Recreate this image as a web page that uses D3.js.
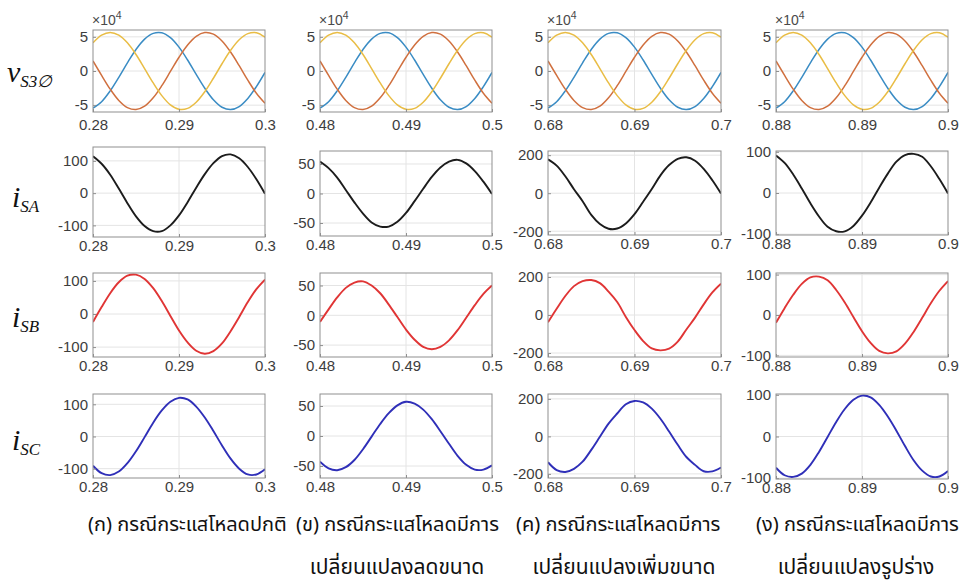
<!DOCTYPE html>
<html>
<head>
<meta charset="utf-8">
<script src="https://cdn.jsdelivr.net/npm/d3@7"></script>
<style>
  body { margin: 0; background: #fff; }
  svg { display: block; }
</style>
</head>
<body>
<svg id="chart" width="963" height="582"></svg>
<script>
// ---- data -------------------------------------------------------------
// sample instants inside each 20 ms window, in ms from the window start
const sampleMs = [0, 1, 2, 3, 4, 5, 6, 7, 8, 9, 10, 11, 12, 13, 14, 15, 16, 17, 18, 19, 20];

// window start / end (s) for the four cases
const windowStart = [0.28, 0.48, 0.68, 0.88];
const windowEnd   = [0.30, 0.50, 0.70, 0.90];
const xTickLabels = [
  ["0.28", "0.29", "0.3"],
  ["0.48", "0.49", "0.5"],
  ["0.68", "0.69", "0.7"],
  ["0.88", "0.89", "0.9"]
];

// three-phase source voltage (x10^4 V), identical in all four windows
const vPhaseA = [-5.44, -4.49, -2.90, -0.92, 1.20, 3.15, 4.66, 5.51, 5.59, 4.88, 3.49, 1.61, -0.50, -2.53, -4.21, -5.30, -5.65, -5.20, -4.02, -2.28, -0.21];
const vPhaseB = [1.47, -0.64, -2.66, -4.31, -5.35, -5.64, -5.14, -3.92, -2.15, -0.07, 2.01, 3.81, 5.08, 5.63, 5.40, 4.40, 2.78, 0.78, -1.34, -3.26, -4.73];
const vPhaseC = [4.12, 5.25, 5.65, 5.25, 4.12, 2.41, 0.35, -1.75, -3.60, -4.95, -5.60, -5.47, -4.57, -3.03, -1.06, 1.06, 3.03, 4.57, 5.47, 5.61, 4.95];

// source currents (A), one list per case
const iSA = [
  [114, 91, 57, 14, -31, -72, -102, -118, -118, -100, -69, -28, 17, 59, 93, 115, 120, 108, 81, 43, -2],
  [54, 43, 27, 6, -15, -34, -49, -56, -56, -48, -33, -13, 8, 28, 44, 54, 57, 51, 38, 20, -1],
  [178, 145, 89, 21, -42, -114, -162, -187, -186, -159, -110, -45, 22, 94, 148, 181, 189, 171, 128, 68, -2],
  [91, 73, 45, 11, -25, -57, -82, -93, -93, -80, -55, -23, 13, 47, 76, 92, 95, 88, 65, 34, -1]
];
const iSB = [
  [-24, 21, 63, 96, 116, 119, 106, 78, 39, -6, -50, -86, -111, -120, -112, -89, -52, -9, 36, 75, 104],
  [-11, 10, 30, 46, 55, 57, 50, 37, 18, -3, -24, -41, -53, -57, -53, -42, -25, -4, 17, 36, 50],
  [-38, 33, 100, 152, 178, 184, 168, 123, 68, -10, -79, -137, -176, -186, -177, -140, -76, -14, 56, 119, 165],
  [-19, 17, 50, 77, 93, 95, 86, 62, 31, -5, -40, -69, -89, -95, -90, -71, -42, -7, 29, 60, 84]
];
const iSC = [
  [-91, -114, -120, -109, -83, -46, -2, 43, 81, 108, 120, 115, 93, 59, 17, -28, -69, -100, -118, -118, -102],
  [-43, -54, -57, -52, -40, -22, -1, 20, 38, 51, 57, 54, 44, 28, 8, -13, -33, -48, -56, -56, -49],
  [-138, -180, -190, -173, -135, -72, -2, 68, 122, 171, 189, 181, 148, 94, 26, -45, -110, -152, -186, -187, -166],
  [-75, -93, -97, -89, -68, -37, -1, 35, 66, 88, 98, 94, 76, 48, 14, -23, -57, -82, -96, -96, -83]
];

// axis limits and tick values
const yLimits = [
  [[-6, 6], [-6, 6], [-6, 6], [-6, 6]],
  [[-136, 143], [-72, 72], [-220, 222], [-102, 102]],
  [[-130, 124], [-70, 71], [-221, 221], [-104, 104]],
  [[-129, 132], [-70, 70], [-222, 226], [-102, 102]]
];
const voltageTicks = [-5, 0, 5];
const currentTicks = [[-100, 0, 100], [-50, 0, 50], [-200, 0, 200], [-100, 0, 100]];

const rowLabels = [
  { main: "v", sub: "S3\u2205" },
  { main: "i", sub: "SA" },
  { main: "i", sub: "SB" },
  { main: "i", sub: "SC" }
];
const captionLine1 = [
  "(ก) กรณีกระแสโหลดปกติ",
  "(ข) กรณีกระแสโหลดมีการ",
  "(ค) กรณีกระแสโหลดมีการ",
  "(ง) กรณีกระแสโหลดมีการ"
];
const captionLine2 = ["", "เปลี่ยนแปลงลดขนาด", "เปลี่ยนแปลงเพิ่มขนาด", "เปลี่ยนแปลงรูปร่าง"];

// ---- layout -----------------------------------------------------------
const colLeft  = [93, 320, 548, 776];
const colRight = [265, 492, 721, 948];
const rowTop    = [[30, 30, 30, 30], [147, 151, 151, 151], [273, 273, 273, 273], [394, 394, 394, 394]];
const rowBottom = [[112, 112, 112, 112], [237, 236, 235, 235], [357, 357, 357, 357], [478, 478, 478, 479]];
const xLabelGap = [7, 3, 3, 3];
const labelBaseline = [82, 207, 327, 450];
const caption1Start = [88, 296, 516, 756];
const caption2Center = [186, 397, 624, 856];

const voltageColors = ["#3a8cc4", "#d0703f", "#e9bd45"];
const currentColors = ["#1c1c1c", "#e03535", "#2f2fb8"];

const svg = d3.select("#chart");
const tickFont = "'Liberation Sans', Arial, Helvetica, sans-serif";

function panel(r, c) {
  const x0 = windowStart[c], x1 = windowEnd[c];
  const x = d3.scaleLinear().domain([x0, x1]).range([colLeft[c], colRight[c]]);
  const y = d3.scaleLinear().domain(yLimits[r][c]).range([rowBottom[r][c], rowTop[r][c]]);
  const yTicks = r === 0 ? voltageTicks : currentTicks[c];
  const xTicks = [x0, (x0 + x1) / 2, x1];

  const g = svg.append("g");
  const id = `clip-${r}-${c}`;
  svg.append("clipPath").attr("id", id)
    .append("rect")
    .attr("x", colLeft[c]).attr("y", rowTop[r][c])
    .attr("width", colRight[c] - colLeft[c])
    .attr("height", rowBottom[r][c] - rowTop[r][c]);

  // grid
  g.append("g").selectAll("line").data([xTicks[1]]).join("line")
    .attr("x1", d => x(d)).attr("x2", d => x(d))
    .attr("y1", rowTop[r][c]).attr("y2", rowBottom[r][c])
    .attr("stroke", "#e4e4e4").attr("stroke-width", 1);
  g.append("g").selectAll("line").data(yTicks).join("line")
    .attr("x1", colLeft[c]).attr("x2", colRight[c])
    .attr("y1", d => y(d)).attr("y2", d => y(d))
    .attr("stroke", "#e4e4e4").attr("stroke-width", 1);

  // waveforms
  const toTime = ms => x0 + ms / 1000;
  const line = d3.line()
    .x((d, i) => x(toTime(sampleMs[i])))
    .y(d => y(d))
    .curve(d3.curveCatmullRom.alpha(0.5));
  const series = r === 0 ? [vPhaseA, vPhaseB, vPhaseC] : [[iSA, iSB, iSC][r - 1][c]];
  const colors = r === 0 ? voltageColors : [currentColors[r - 1]];
  const lw = r === 0 ? 1.5 : 1.9;
  g.append("g").attr("clip-path", `url(#${id})`)
    .selectAll("path").data(series).join("path")
    .attr("d", line)
    .attr("fill", "none")
    .attr("stroke", (d, i) => colors[i])
    .attr("stroke-width", lw)
    .attr("stroke-linejoin", "round");

  // axes
  const xAxis = d3.axisBottom(x).tickValues(xTicks)
    .tickFormat((d, i) => xTickLabels[c][i])
    .tickSize(-3).tickPadding(xLabelGap[r]);
  const ga = g.append("g").attr("transform", `translate(0,${rowBottom[r][c]})`).call(xAxis);
  const yAxis = d3.axisLeft(y).tickValues(yTicks)
    .tickFormat(d => String(d))
    .tickSize(-3).tickPadding(5);
  const gb = g.append("g").attr("transform", `translate(${colLeft[c]},0)`).call(yAxis);
  [ga, gb].forEach(a => {
    a.select(".domain").remove();
    a.selectAll(".tick line").attr("stroke", "#8f8f8f");
    a.selectAll(".tick text")
      .attr("fill", "#3d3d3d")
      .style("font-family", tickFont)
      .style("font-size", "15px");
  });

  // frame
  g.append("rect")
    .attr("x", colLeft[c]).attr("y", rowTop[r][c])
    .attr("width", colRight[c] - colLeft[c])
    .attr("height", rowBottom[r][c] - rowTop[r][c])
    .attr("fill", "none").attr("stroke", "#8f8f8f").attr("stroke-width", 1);

  // exponent marker on the voltage row
  if (r === 0) {
    const t = g.append("text")
      .attr("x", colLeft[c] - 1).attr("y", rowTop[r][c] - 5)
      .attr("fill", "#4a4a4a")
      .style("font-family", tickFont).style("font-size", "14px");
    t.append("tspan").text("\u00d710");
    t.append("tspan").attr("dy", -6).style("font-size", "10.5px").text("4");
  }
}

for (let r = 0; r < 4; r++) for (let c = 0; c < 4; c++) panel(r, c);

// row labels
rowLabels.forEach((lab, r) => {
  const t = svg.append("text")
    .attr("x", r === 0 ? 7 : 12).attr("y", labelBaseline[r])
    .attr("fill", "#111")
    .style("font-family", "'Liberation Serif', 'Times New Roman', serif")
    .style("font-style", "italic");
  t.append("tspan").style("font-size", "30px").text(lab.main);
  t.append("tspan").attr("dy", 5).style("font-size", "17px").text(lab.sub);
});

// case captions
const thaiFont = "'Noto Sans Thai', 'Noto Sans', 'DejaVu Sans', sans-serif";
captionLine1.forEach((s, i) => {
  svg.append("text").attr("x", caption1Start[i]).attr("y", 531)
    .attr("fill", "#111")
    .style("font-family", thaiFont).style("font-size", "20px")
    .text(s);
});
captionLine2.forEach((s, i) => {
  if (!s) return;
  svg.append("text").attr("x", caption2Center[i]).attr("y", 574)
    .attr("text-anchor", "middle")
    .attr("fill", "#111")
    .style("font-family", thaiFont).style("font-size", "21px")
    .text(s);
});
</script>
</body>
</html>
